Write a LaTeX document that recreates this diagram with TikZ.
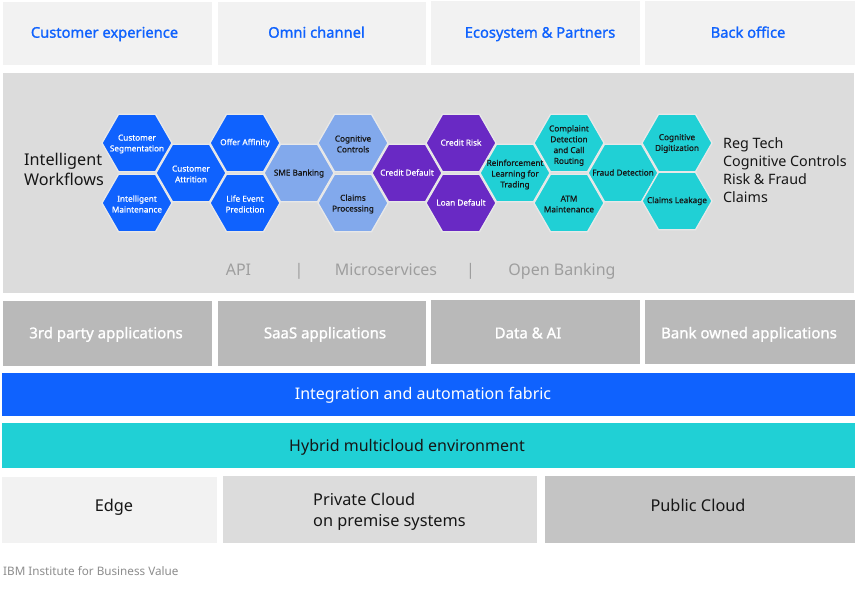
\documentclass[tikz,border=0pt]{standalone}
\usepackage{fontspec}
\setmainfont{Noto Sans}
\newfontfamily\semibfont[FakeBold=1.3]{Noto Sans}
\newfontfamily\medfont[FakeBold=0.7]{Noto Sans}
\definecolor{ibmblue}{HTML}{0F62FE}
\definecolor{lightblue}{HTML}{82A9EC}
\definecolor{ibmpurple}{HTML}{6929C4}
\definecolor{ibmcyan}{HTML}{20D0D5}
\definecolor{panelgray}{HTML}{DCDCDC}
\definecolor{boxlight}{HTML}{F2F2F2}
\definecolor{appgray}{HTML}{B9B9B9}
\definecolor{pubgray}{HTML}{C4C4C4}
\definecolor{privgray}{HTML}{DCDCDC}
\definecolor{hexline}{HTML}{E8E8E8}
\definecolor{darktext}{HTML}{161616}
\definecolor{apigray}{HTML}{9E9E9E}
\definecolor{srcgray}{HTML}{8D8D8D}
\newcommand{\hexcell}[7]{%
  \fill[fill=#4, draw=hexline, line width=1.3pt, shift={(#2,#3)}]
    (-35,0) -- (-18.5,-28.7) -- (18.5,-28.7) -- (35,0) -- (18.5,28.7) -- (-18.5,28.7) -- cycle;
  \node[hexlabel, text=#5] (#1) at (#2,#3+#6) {#7};}
\begin{document}
\begin{tikzpicture}[x=1pt,y=-1pt,
  txt/.style={inner sep=0pt},
  btxt/.style={inner sep=0pt, anchor=base},
  hexlabel/.style={txt, align=center, font=\medfont\fontsize{8.2}{10.8}\selectfont},
  toptext/.style={btxt, text=ibmblue, font=\semibfont\fontsize{14.7}{16}\selectfont},
  apptext/.style={btxt, text=white, font=\semibfont\fontsize{15}{16}\selectfont},
  apitext/.style={btxt, text=apigray, font=\fontsize{16}{18}\selectfont},
  bartext/.style={btxt, font=\fontsize{16}{19}\selectfont},
  cloudtext/.style={btxt, text=darktext, font=\fontsize{16.3}{21}\selectfont}]
\useasboundingbox (0,0) rectangle (856,602);
\fill[white] (0,0) rectangle (856,602);
% top row
\fill[boxlight] (3,2) rectangle (212,65.5);
\fill[boxlight] (217.5,2) rectangle (426,65.5);
\fill[boxlight] (431,1) rectangle (640,64.7);
\fill[boxlight] (645,1) rectangle (855,64.7);
\node[toptext] (ce) at (104.5,37.7) {Customer experience};
\node[toptext] (oc) at (316.5,37.7) {Omni channel};
\node[toptext] (ep) at (540,37.7) {Ecosystem \& Partners};
\node[toptext] (bo) at (748,37.7) {Back office};
% panel
\fill[panelgray] (3,73) rectangle (854,293);
\node[txt, anchor=west, align=left, text=darktext, font=\fontsize{16.2}{20}\selectfont] (iw) at (24,169) {Intelligent\\Workflows};
\node[txt, anchor=west, align=left, text=darktext, font=\fontsize{14.3}{18}\selectfont] (rt) at (723,170) {Reg Tech\\Cognitive Controls\\Risk \& Fraud\\Claims};
% hexagons
\hexcell{h1}{137}{143}{ibmblue}{white}{1}{Customer\\Segmentation}
\hexcell{h2}{137}{203}{ibmblue}{white}{1}{Intelligent\\Maintenance}
\hexcell{h3}{191}{173}{ibmblue}{white}{1}{Customer\\Attrition}
\hexcell{h4}{245}{143}{ibmblue}{white}{0}{Offer Affinity}
\hexcell{h5}{245}{203}{ibmblue}{white}{1}{Life Event\\Prediction}
\hexcell{h6}{299}{173}{lightblue}{darktext}{0.5}{SME Banking}
\hexcell{h7}{353}{143}{lightblue}{darktext}{1}{Cognitive\\Controls}
\hexcell{h8}{353}{203}{lightblue}{darktext}{1}{Claims\\Processing}
\hexcell{h9}{407}{173}{ibmpurple}{white}{-0.5}{Credit Default}
\hexcell{h10}{461}{143}{ibmpurple}{white}{-0.5}{Credit Risk}
\hexcell{h11}{461}{203}{ibmpurple}{white}{-0.5}{Loan Default}
\hexcell{h12}{515}{173}{ibmcyan}{darktext}{1.5}{Reinforcement\\Learning for\\Trading}
\hexcell{h13}{569}{143}{ibmcyan}{darktext}{2.5}{Complaint\\Detection\\and Call\\Routing}
\hexcell{h14}{569}{203}{ibmcyan}{darktext}{1}{ATM\\Maintenance}
\hexcell{h15}{623}{173}{ibmcyan}{darktext}{-0.5}{Fraud Detection}
\hexcell{h16}{677}{143}{ibmcyan}{darktext}{0.5}{Cognitive\\Digitization}
\hexcell{h17}{677}{201}{ibmcyan}{darktext}{0}{Claims Leakage}
% API line
\node[apitext] (api) at (238.5,275.7) {API};
\node[apitext] (sep1) at (299,275.7) {|};
\node[apitext] (ms) at (386,275.7) {Microservices};
\node[apitext] (sep2) at (470.5,275.7) {|};
\node[apitext] (ob) at (562,275.7) {Open Banking};
% applications row
\fill[appgray] (3,301) rectangle (212,365.5);
\fill[appgray] (217.5,301) rectangle (426,365.5);
\fill[appgray] (431,300) rectangle (640,364);
\fill[appgray] (645,300) rectangle (855,364);
\node[apptext] (a1) at (106,338.3) {3rd party applications};
\node[apptext] (a2) at (325,338.3) {SaaS applications};
\node[apptext] (a3) at (528,338.3) {Data \& AI};
\node[apptext] (a4) at (749,338.3) {Bank owned applications};
% bars
\fill[ibmblue] (2,373) rectangle (855,415.5);
\node[bartext, text=white] (iaf) at (423,399.3) {Integration and automation fabric};
\fill[ibmcyan] (2,423) rectangle (855,468);
\node[bartext, text=darktext] (hme) at (407,451) {Hybrid multicloud environment};
% cloud row
\fill[boxlight] (2,476.5) rectangle (217,543);
\fill[privgray] (223,475.5) rectangle (536.5,543);
\fill[pubgray] (545,475.5) rectangle (855,543);
\node[cloudtext] (edge) at (114,511.7) {Edge};
\node[txt, text=darktext, font=\fontsize{16.3}{21}\selectfont, anchor=west, align=left] (priv) at (313,511.5) {Private Cloud\\on premise systems};
\node[cloudtext] (pub) at (698,511.7) {Public Cloud};
% source
\node[btxt, anchor=base west, text=srcgray, font=\fontsize{11.7}{14}\selectfont] (src) at (3,575.5) {IBM Institute for Business Value};
\end{tikzpicture}
\end{document}
